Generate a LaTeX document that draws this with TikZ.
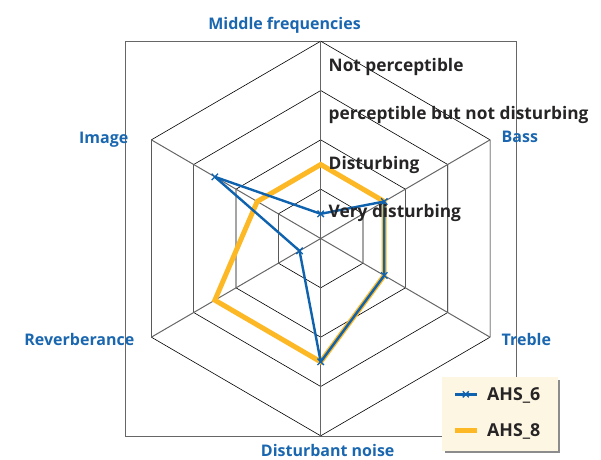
\documentclass[tikz,border=0pt]{standalone}
\usepackage{fontspec}
\setmainfont{Open Sans}
\definecolor{lblue}{HTML}{1A67B0}
\definecolor{lineblue}{HTML}{0F62AD}
\definecolor{lorange}{HTML}{FDB826}
\definecolor{ltext}{HTML}{262424}
\definecolor{lcream}{HTML}{FDF6E3}
\tikzset{
  axislabel/.style={text=lblue,font=\fontsize{16}{18}\selectfont\bfseries,inner sep=0pt},
  ringlabel/.style={text=ltext,font=\fontsize{17.3}{19}\selectfont\bfseries,inner sep=0pt,anchor=base west},
  legtext/.style={text=ltext,font=\fontsize{17.8}{19}\selectfont\bfseries,inner sep=0pt,anchor=base west},
  ring/.style={black,line width=0.6pt},
  spoke/.style={black!60,line width=1pt},
  frame/.style={black!60,line width=1pt},
  seriesA/.style={lineblue,line width=2.4pt,line join=round},
  seriesB/.style={lorange,line width=5pt,line join=miter},
  markA/.style={lineblue,line width=1.3pt}
}
\begin{document}
\begin{tikzpicture}[x=1pt,y=-1pt]
\useasboundingbox (0,0) rectangle (601,459);
% frame
\draw[frame] (125.7,41.7) rectangle (516.7,436.7);
\begin{scope}[shift={(320.7,238.5)},x=0.991pt,y=1pt]
  \coordinate (c) at (0,0);
  % rings
  \foreach \k in {1,2,3,4}{
    \draw[ring] (90:\k*49.33) -- (30:\k*49.33) -- (-30:\k*49.33) -- (-90:\k*49.33) -- (-150:\k*49.33) -- (150:\k*49.33) -- cycle;
  }
  % spokes
  \foreach \a in {90,30,-30,-90,-150,150}{
    \coordinate (v\a) at (\a:197.3);
    \draw[spoke] (c) -- (v\a);
  }
  % series B (orange)
  \coordinate (b1) at (90:1.5*49.33);
  \coordinate (b2) at (30:1.5*49.33);
  \coordinate (b3) at (-30:1.5*49.33);
  \coordinate (b4) at (-90:2.5*49.33);
  \coordinate (b5) at (-150:2.5*49.33);
  \coordinate (b6) at (150:1.5*49.33);
  \draw[seriesB] (b1) -- (b2) -- (b3) -- (b4) -- (b5) -- (b6) -- cycle;
  % series A (blue)
  \coordinate (a1) at (90:0.5*49.33);
  \coordinate (a2) at (30:1.5*49.33);
  \coordinate (a3) at (-30:1.5*49.33);
  \coordinate (a4) at (-90:2.5*49.33);
  \coordinate (a5) at (-150:0.5*49.33);
  \coordinate (a6) at (150:2.5*49.33);
  \draw[seriesA] (a1) -- (a2) -- (a3) -- (a4) -- (a5) -- (a6) -- cycle;
  \foreach \p in {a1,a2,a3,a4,a5,a6}{
    \draw[markA] ([shift={(-3.2,-3.2)}]\p) -- ([shift={(3.2,3.2)}]\p);
    \draw[markA] ([shift={(-3.2,3.2)}]\p) -- ([shift={(3.2,-3.2)}]\p);
  }
\end{scope}
% ring labels
\node[ringlabel] (r4) at (328.5,71) {Not perceptible};
\node[ringlabel] (r3) at (328.5,119.5) {perceptible but not disturbing};
\node[ringlabel] (r2) at (328.5,169) {Disturbing};
\node[ringlabel] (r1) at (328.5,217.3) {Very disturbing};
% axis labels
\node[axislabel,anchor=base] (lmid) at (284.5,29.3) {Middle frequencies};
\node[axislabel,anchor=base west] (lbass) at (501.5,142.5) {Bass};
\node[axislabel,anchor=base east] (limg) at (128.5,143.3) {Image};
\node[axislabel,anchor=base east] (lrev) at (134.5,345.3) {Reverberance};
\node[axislabel,anchor=base west] (ltre) at (501.5,345) {Treble};
\node[axislabel,anchor=base] (lnoise) at (327.7,456) {Disturbant noise};
% legend
\fill[black!45] (444.5,379.5) rectangle (560.2,453.2);
\node[fill=lcream,minimum width=116pt,minimum height=74pt,inner sep=0pt,anchor=north west] (leg) at (441.7,376.7) {};
\coordinate (la1) at (455,394.3);
\coordinate (la2) at (476.7,394.3);
\coordinate (lb1) at (455,430);
\coordinate (lb2) at (476.7,430);
\draw[lineblue,line width=2.4pt] (la1) -- (la2);
\coordinate (lam) at (465.8,394.3);
\draw[markA] ([shift={(-3,-3)}]lam) -- ([shift={(3,3)}]lam);
\draw[markA] ([shift={(-3,3)}]lam) -- ([shift={(3,-3)}]lam);
\draw[lorange,line width=5pt] (lb1) -- (lb2);
\node[legtext] (leg6) at (487,400.5) {AHS\_6};
\node[legtext] (leg8) at (487,436.5) {AHS\_8};
\end{tikzpicture}
\end{document}
